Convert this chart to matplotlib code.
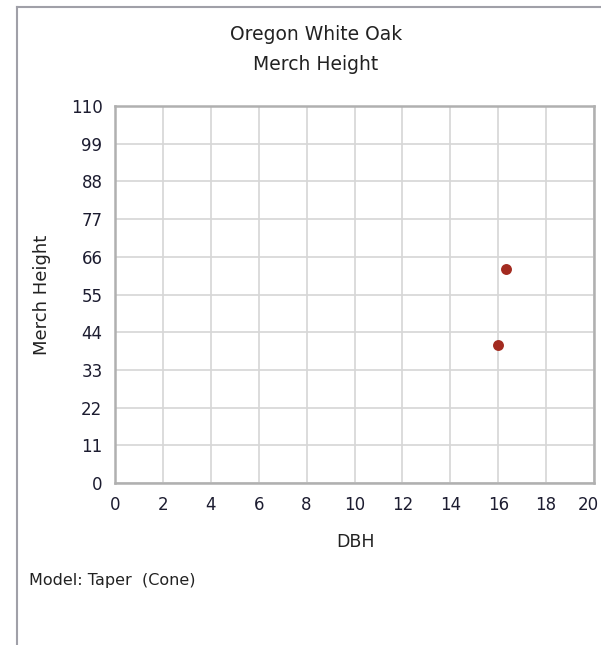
import matplotlib.pyplot as plt
from matplotlib.lines import Line2D
from matplotlib.transforms import ScaledTranslation

# Data
dbh = [16.0, 16.31]
merch_height = [40.3, 62.4]
x_ticks = [0, 2, 4, 6, 8, 10, 12, 14, 16, 18, 20]
y_ticks = [0, 11, 22, 33, 44, 55, 66, 77, 88, 99, 110]

W, H = 601, 645
fig = plt.figure(figsize=(W / 100, H / 100), dpi=100)
plt.rcParams['font.family'] = ['DejaVu Sans']
txt_color = '#222222'

# axes box in pixel coords: x 115-594, y 106-483
ax = fig.add_axes([115 / W, 1 - 483 / H, (594 - 115) / W, (483 - 106) / H])
ax.scatter(dbh, merch_height, s=62, color='#a32b20', zorder=3, linewidths=0)

ax.set_xlim(0, 20)
ax.set_ylim(0, 110)
ax.set_xticks(x_ticks)
ax.set_yticks(y_ticks)
ax.grid(True, color='#d6d6d6', linewidth=1.2)
ax.tick_params(length=0, labelsize=12, colors='#1c1c30', pad=9)
for sp in ax.spines.values():
    sp.set_color('#b0b0b0')
    sp.set_linewidth(1.8)

# last x label sits at the right edge, pull it in a little
last = ax.xaxis.get_major_ticks()[-1].label1
last.set_horizontalalignment('right')
last.set_transform(last.get_transform() + ScaledTranslation(5 / 100, 0, fig.dpi_scale_trans))

# axis titles placed in pixel positions
fig.text(355 / W, 1 - 542 / H, "DBH", ha='center', va='center',
         fontsize=12.5, color=txt_color)
fig.text(42 / W, 1 - 295 / H, "Merch Height", ha='center', va='center',
         rotation=90, fontsize=13, color=txt_color)

fig.text(316 / W, 1 - 35 / H, "Oregon White Oak", ha='center', va='center',
         fontsize=13.5, color=txt_color)
fig.text(316 / W, 1 - 64 / H, "Merch Height", ha='center', va='center',
         fontsize=13.5, color=txt_color)
fig.text(29 / W, 1 - 581 / H, "Model: Taper  (Cone)", ha='left', va='center',
         fontsize=11.5, color=txt_color)

# outer panel border (left and top)
fig.add_artist(Line2D([17 / W, 17 / W], [0, 1 - 7 / H], transform=fig.transFigure,
                      color='#a0a0a8', linewidth=1.5))
fig.add_artist(Line2D([17 / W, 1], [1 - 7 / H, 1 - 7 / H], transform=fig.transFigure,
                      color='#a0a0a8', linewidth=1.5))

fig.savefig("out.png", dpi=100)
